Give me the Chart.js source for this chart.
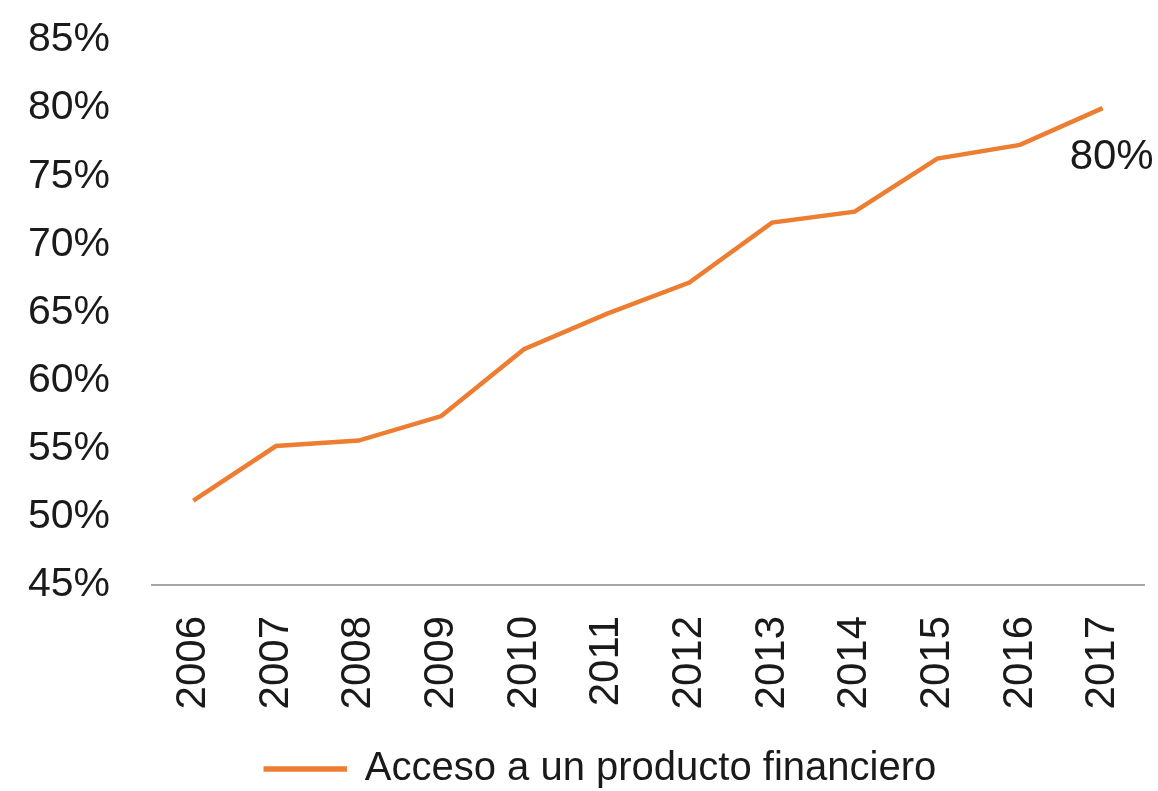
<!DOCTYPE html>
<html lang="es">
<head>
<meta charset="utf-8">
<title>Acceso a un producto financiero</title>
<script src="https://cdn.jsdelivr.net/npm/chart.js@4.4.1/dist/chart.umd.min.js"></script>
<style>
    html, body { margin: 0; padding: 0; background: #ffffff; }
    #contenedor { width: 1158px; height: 791px; }
</style>
</head>
<body>
<div id="contenedor"><canvas id="graficoAcceso"></canvas></div>
<script>
// Datos del gráfico
const anios = ["2006", "2007", "2008", "2009", "2010", "2011", "2012", "2013", "2014", "2015", "2016", "2017"];
const acceso = [51.2, 55.2, 55.6, 57.4, 62.3, 64.9, 67.2, 71.6, 72.4, 76.3, 77.3, 80];
const serieNombre = "Acceso a un producto financiero";
const ejeYMin = 45;
const ejeYMax = 85;
const ejeYPaso = 5;

const fuente = "'Liberation Sans', Arial, sans-serif";
const naranja = "#ED7D31";

// Etiqueta con el último valor (80%)
const etiquetaFinal = {
    id: "etiquetaFinal",
    afterDatasetsDraw(chart) {
        const meta = chart.getDatasetMeta(0);
        const ultimo = meta.data[meta.data.length - 1];
        const ctx = chart.ctx;
        ctx.save();
        ctx.font = "42px " + fuente;
        ctx.fillStyle = "#1a1a1a";
        ctx.textAlign = "center";
        ctx.textBaseline = "middle";
        ctx.fillText(Math.round(acceso[acceso.length - 1]) + "%", ultimo.x + 9, ultimo.y + 49);
        ctx.restore();
    }
};

// Desplazar la leyenda un poco (derecha y abajo), como en el original
const moverLeyenda = {
    id: "moverLeyenda",
    afterLayout(chart) {
        const leyenda = chart.legend;
        if (leyenda) {
            leyenda.left += 24;
            leyenda.right += 24;
            leyenda.top += 8;
            leyenda.bottom += 8;
        }
    }
};

document.addEventListener("DOMContentLoaded", function() {
    const ctx = document.getElementById("graficoAcceso").getContext("2d");
    window.graficoAcceso = new Chart(ctx, {
        type: "line",
        data: {
            labels: anios,
            datasets: [{
                label: serieNombre,
                data: acceso,
                borderColor: naranja,
                backgroundColor: naranja,
                borderWidth: 4.5,
                pointRadius: 0,
                tension: 0,
                fill: false,
            }],
        },
        options: {
            responsive: true,
            maintainAspectRatio: false,
            animation: false,
            layout: { padding: { top: 40, left: 10, right: 14, bottom: 0 } },
            plugins: {
                tooltip: { enabled: false },
                legend: {
                    display: true,
                    position: "bottom",
                    labels: {
                        color: "#1a1a1a",
                        font: { family: fuente, size: 40 },
                        boxWidth: 79,
                        boxHeight: 1,
                        padding: 4,
                    },
                },
            },
            scales: {
                x: {
                    offset: true,
                    grid: { display: false, drawTicks: false },
                    border: { display: true, color: "#a6a6a6", width: 2 },
                    ticks: {
                        color: "#1a1a1a",
                        font: { family: fuente, size: 42 },
                        minRotation: 90,
                        maxRotation: 90,
                        padding: 31,
                    },
                    afterFit: function(scale) {
                        scale.height = 152;
                        scale.paddingLeft = 0;
                        scale.paddingRight = 0;
                    },
                },
                y: {
                    min: ejeYMin,
                    max: ejeYMax,
                    grid: { display: false, drawTicks: false },
                    border: { display: false },
                    ticks: {
                        stepSize: ejeYPaso,
                        color: "#1a1a1a",
                        font: { family: fuente, size: 41 },
                        padding: 42,
                        callback: function(v) { return v + "%"; },
                    },
                    afterFit: function(scale) {
                        scale.width = 142;
                        scale.paddingTop = 0;
                        scale.paddingBottom = 0;
                    },
                },
            },
        },
        plugins: [etiquetaFinal, moverLeyenda],
    });
});
</script>
</body>
</html>
